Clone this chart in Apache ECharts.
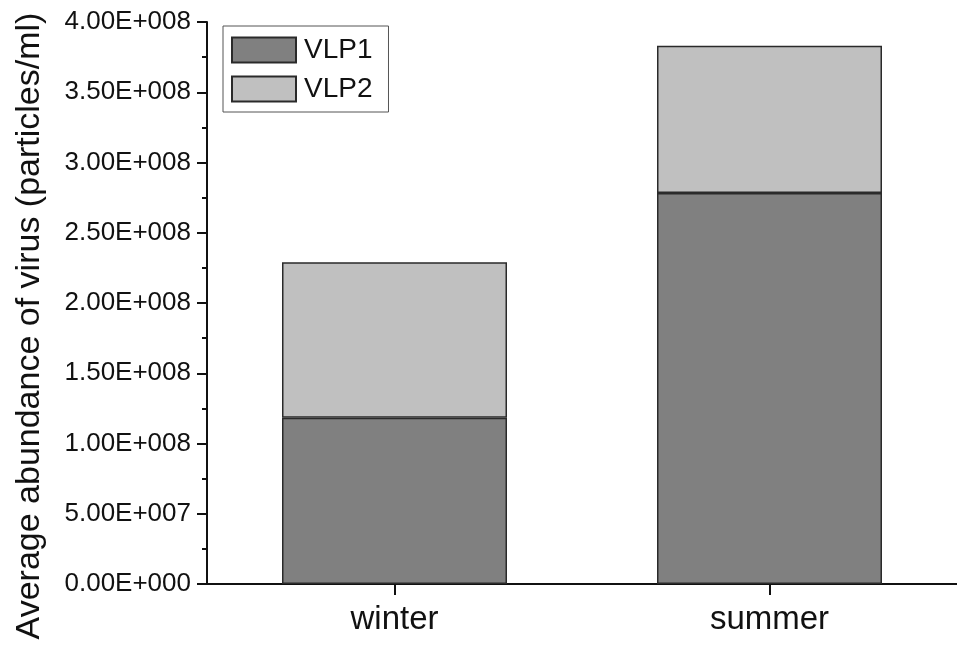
<!DOCTYPE html>
<html>
<head>
<meta charset="utf-8">
<script src="https://cdn.jsdelivr.net/npm/echarts@6/dist/echarts.min.js"></script>
<style>
  html, body { margin: 0; padding: 0; background: #fff; }
  #chart { width: 957px; height: 646px; }
</style>
</head>
<body>
<div id="chart"></div>
<script>
// Seasonal categories and stacked virus-like particle abundances (particles/ml)
var seasons = ['winter', 'summer'];
var vlp1 = [1.184e8, 2.783e8];
var vlp2 = [1.106e8, 1.048e8];
var seriesNames = ['VLP1', 'VLP2'];
var yAxisTitle = 'Average abundance of virus (particles/ml)';

var FONT = 'Arial, "Liberation Sans", sans-serif';

// Scientific notation like 4.00E+008
function sciLabel(v) {
  var parts = Number(v).toExponential(2).split('e');
  var exp = parseInt(parts[1], 10);
  var sign = exp < 0 ? '-' : '+';
  var digits = String(Math.abs(exp));
  while (digits.length < 3) digits = '0' + digits;
  return parts[0] + 'E' + sign + digits;
}

var chart = echarts.init(document.getElementById('chart'), null, { renderer: 'canvas' });

chart.setOption({
  backgroundColor: '#ffffff',
  animation: false,
  grid: { left: 207, top: 22, bottom: 62, right: -2, containLabel: false },
  legend: {
    data: seriesNames,
    orient: 'vertical',
    left: 223,
    top: 26,
    icon: 'rect',
    itemWidth: 64,
    itemHeight: 25,
    itemGap: 11,
    padding: [10, 16, 9, 8],
    borderColor: '#555',
    borderWidth: 1,
    backgroundColor: '#fff',
    textStyle: { fontFamily: FONT, fontSize: 28, color: '#111', lineHeight: 25, padding: [0, 0, 0, 3] }
  },
  xAxis: {
    type: 'category',
    data: seasons,
    axisLine: { lineStyle: { color: '#111', width: 2 } },
    axisTick: { show: true, alignWithLabel: true, interval: 0, length: 11, lineStyle: { color: '#111', width: 2 } },
    axisLabel: { fontFamily: FONT, fontSize: 33, color: '#111', margin: 19 },
    splitLine: { show: false }
  },
  yAxis: {
    type: 'value',
    min: 0,
    max: 4e8,
    interval: 0.5e8,
    axisLine: { show: true, lineStyle: { color: '#111', width: 2 } },
    axisTick: { show: true, length: 10, lineStyle: { color: '#111', width: 2 } },
    minorTick: { show: true, splitNumber: 2, length: 5, lineStyle: { color: '#111', width: 2 } },
    axisLabel: { fontFamily: FONT, fontSize: 26, color: '#111', margin: 16, formatter: sciLabel },
    splitLine: { show: false }
  },
  graphic: [{
    type: 'text',
    x: 30,
    y: 326,
    rotation: Math.PI / 2,
    style: {
      text: yAxisTitle,
      font: '34px ' + FONT,
      fill: '#111',
      align: 'center',
      verticalAlign: 'middle'
    }
  }],
  series: [
    {
      name: seriesNames[0],
      type: 'bar',
      stack: 'total',
      barWidth: '60%',
      data: vlp1,
      itemStyle: { color: '#808080', borderColor: '#2a2a2a', borderWidth: 1.5 }
    },
    {
      name: seriesNames[1],
      type: 'bar',
      stack: 'total',
      barWidth: '60%',
      data: vlp2,
      itemStyle: { color: '#c0c0c0', borderColor: '#2a2a2a', borderWidth: 1.5 }
    }
  ]
});
</script>
</body>
</html>
